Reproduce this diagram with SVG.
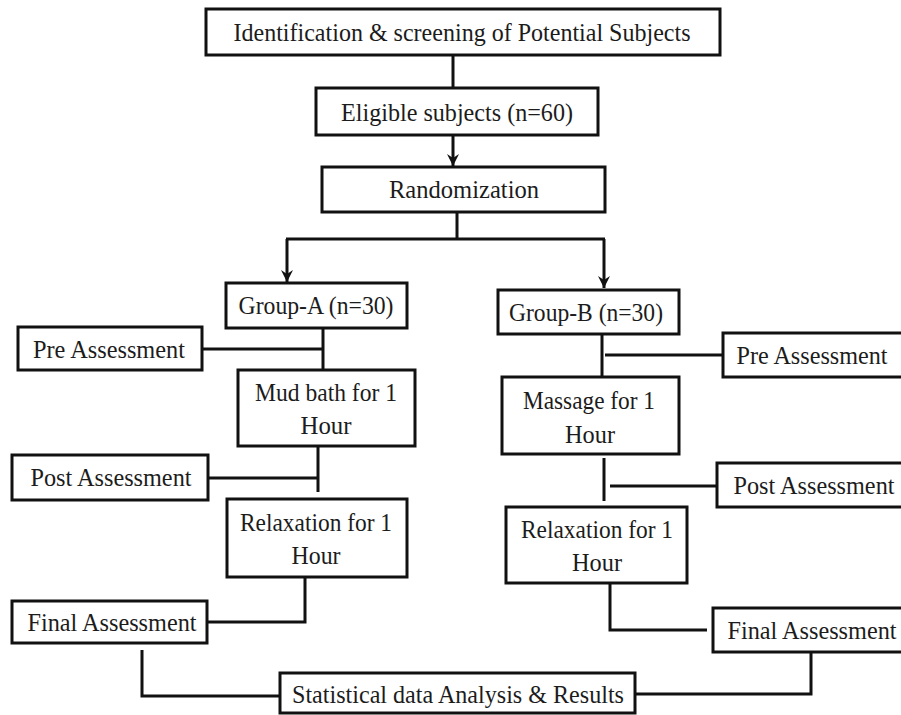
<svg xmlns="http://www.w3.org/2000/svg" width="901" height="715" viewBox="0 0 901 715">
<style>
.box{fill:#fff;stroke:#111;stroke-width:3}
.t{font-family:"Liberation Serif","Times New Roman",serif;font-size:25px;fill:#1c1c1c;text-anchor:middle}
.c{fill:none;stroke:#111;stroke-width:3}
</style>
<defs>
<marker id="ah" markerUnits="userSpaceOnUse" markerWidth="14" markerHeight="14" refX="12" refY="6" orient="auto">
<path d="M0,0 L12,6 L0,12 L4,6 z" fill="#111"/>
</marker>
</defs>
<rect width="901" height="715" fill="#fff"/>
<g id="connectors">
<path class="c" d="M453,55 V88"/>
<path class="c" d="M453,135 V166" marker-end="url(#ah)"/>
<path class="c" d="M457,212 V239"/>
<path class="c" d="M286,239 H605"/>
<path class="c" d="M287,239 V282" marker-end="url(#ah)"/>
<path class="c" d="M604,239 V288" marker-end="url(#ah)"/>
<path class="c" d="M323,328 V370"/>
<path class="c" d="M202,349 H323"/>
<path class="c" d="M318,446 V492"/>
<path class="c" d="M208,478 H318"/>
<path class="c" d="M305,577 V622 H207"/>
<path class="c" d="M142,650 V696 H280"/>
<path class="c" d="M602,334 V377"/>
<path class="c" d="M605,355 H723"/>
<path class="c" d="M604,458 V501"/>
<path class="c" d="M610,486 H717"/>
<path class="c" d="M610,583 V630 H707"/>
<path class="c" d="M811,652 V694 H635"/>
</g>
<g id="identification"><rect class="box" x="206" y="9" width="514" height="46"/><text class="t" x="462" y="41" textLength="457" lengthAdjust="spacingAndGlyphs">Identification &amp; screening of Potential Subjects</text></g>
<g id="eligible"><rect class="box" x="316" y="88" width="282" height="47"/><text class="t" x="457" y="121" textLength="232" lengthAdjust="spacingAndGlyphs">Eligible subjects (n=60)</text></g>
<g id="randomization"><rect class="box" x="322" y="167" width="283" height="45"/><text class="t" x="464" y="198" textLength="150" lengthAdjust="spacingAndGlyphs">Randomization</text></g>
<g id="groupA"><rect class="box" x="226" y="283" width="181" height="45"/><text class="t" x="316" y="314" textLength="155" lengthAdjust="spacingAndGlyphs">Group-A (n=30)</text></g>
<g id="groupB"><rect class="box" x="498" y="290" width="181" height="44"/><text class="t" x="586" y="321" textLength="154" lengthAdjust="spacingAndGlyphs">Group-B (n=30)</text></g>
<g id="preA"><rect class="box" x="18" y="327" width="184" height="43"/><text class="t" x="109" y="358" textLength="152" lengthAdjust="spacingAndGlyphs">Pre Assessment</text></g>
<g id="mudbath"><rect class="box" x="238" y="370" width="177" height="76"/><text class="t" x="326" y="401" textLength="142" lengthAdjust="spacingAndGlyphs">Mud bath for 1</text><text class="t" x="326" y="434" textLength="51" lengthAdjust="spacingAndGlyphs">Hour</text></g>
<g id="postA"><rect class="box" x="12" y="455" width="196" height="45"/><text class="t" x="111" y="486" textLength="161" lengthAdjust="spacingAndGlyphs">Post Assessment</text></g>
<g id="relaxA"><rect class="box" x="227" y="499" width="180" height="78"/><text class="t" x="316" y="531" textLength="152" lengthAdjust="spacingAndGlyphs">Relaxation for 1</text><text class="t" x="316" y="564" textLength="49" lengthAdjust="spacingAndGlyphs">Hour</text></g>
<g id="finalA"><rect class="box" x="12" y="601" width="195" height="42"/><text class="t" x="112" y="631" textLength="169" lengthAdjust="spacingAndGlyphs">Final Assessment</text></g>
<g id="preB"><rect class="box" x="723" y="333" width="185" height="44"/><text class="t" x="812" y="364" textLength="151" lengthAdjust="spacingAndGlyphs">Pre Assessment</text></g>
<g id="massage"><rect class="box" x="502" y="377" width="177" height="77"/><text class="t" x="589" y="409" textLength="132" lengthAdjust="spacingAndGlyphs">Massage for 1</text><text class="t" x="590" y="443" textLength="50" lengthAdjust="spacingAndGlyphs">Hour</text></g>
<g id="postB"><rect class="box" x="717" y="463" width="190" height="44"/><text class="t" x="814" y="494" textLength="161" lengthAdjust="spacingAndGlyphs">Post Assessment</text></g>
<g id="relaxB"><rect class="box" x="506" y="507" width="181" height="76"/><text class="t" x="597" y="538" textLength="152" lengthAdjust="spacingAndGlyphs">Relaxation for 1</text><text class="t" x="597" y="571" textLength="50" lengthAdjust="spacingAndGlyphs">Hour</text></g>
<g id="finalB"><rect class="box" x="713" y="608" width="195" height="44"/><text class="t" x="812" y="639" textLength="169" lengthAdjust="spacingAndGlyphs">Final Assessment</text></g>
<g id="statistical"><rect class="box" x="280" y="673" width="355" height="40"/><text class="t" x="458" y="703" textLength="332" lengthAdjust="spacingAndGlyphs">Statistical data Analysis &amp; Results</text></g>
</svg>
